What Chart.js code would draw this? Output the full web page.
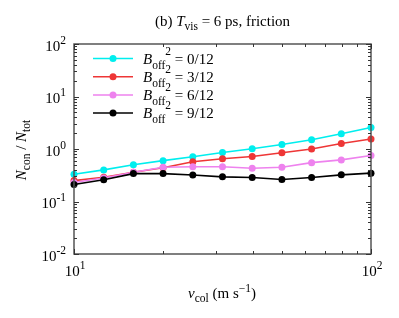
<!DOCTYPE html>
<html>
<head>
<meta charset="utf-8">
<script src="https://cdn.jsdelivr.net/npm/chart.js@4/dist/chart.umd.min.js"></script>
<style>
html,body{margin:0;padding:0;background:#fff;}
#wrap{width:399px;height:318px;}
</style>
</head>
<body>
<div id="wrap"><canvas id="c" width="399" height="318"></canvas></div>
<script>
// ---- data ----
const vCol = [10, 12.59, 15.85, 19.95, 25.12, 31.62, 39.81, 50.12, 63.10, 79.43, 100];
const seriesB0 = [0.33, 0.40, 0.50, 0.60, 0.71, 0.86, 1.01, 1.22, 1.50, 1.95, 2.57];
const seriesB3 = [0.25, 0.29, 0.36, 0.44, 0.57, 0.65, 0.72, 0.85, 1.00, 1.27, 1.55];
const seriesB6 = [0.23, 0.28, 0.36, 0.45, 0.46, 0.46, 0.43, 0.45, 0.55, 0.62, 0.75];
const seriesB9 = [0.21, 0.26, 0.34, 0.34, 0.32, 0.295, 0.286, 0.263, 0.286, 0.322, 0.347];
const seriesNames = ['0/12', '3/12', '6/12', '9/12'];
const xTickExps = [1, 2];
const yTickExps = [-2, -1, 0, 1, 2];

const colors = ['#00eeee', '#ee3636', '#ee82ee', '#000000'];
const seriesData = [seriesB0, seriesB3, seriesB6, seriesB9];

const FONT = '"Liberation Serif", "Times New Roman", serif';
const FS = 15, FSS = 11.5;

function richText(ctx, segs, x, y, align) {
  let w = 0;
  segs.forEach(s => { ctx.font = (s.it ? 'italic ' : '') + s.size + 'px ' + FONT; s.w = ctx.measureText(s.t).width; w += s.w; });
  let cx = x;
  if (align === 'center') cx = x - w / 2;
  else if (align === 'right') cx = x - w;
  ctx.textAlign = 'left';
  ctx.textBaseline = 'alphabetic';
  segs.forEach(s => {
    ctx.font = (s.it ? 'italic ' : '') + s.size + 'px ' + FONT;
    ctx.fillText(s.t, cx, y + (s.dy || 0));
    cx += s.w;
  });
  return w;
}

const decor = {
  id: 'decor',
  afterDatasetsDraw(chart) {
    const ctx = chart.ctx;
    const a = chart.chartArea;
    const xs = chart.scales.x, ys = chart.scales.y;
    ctx.save();
    ctx.fillStyle = '#000';
    // frame
    ctx.strokeStyle = '#555';
    ctx.lineWidth = 1.5;
    ctx.strokeRect(a.left, a.top, a.right - a.left, a.bottom - a.top);
    // ticks
    ctx.lineWidth = 1;
    ctx.strokeStyle = '#333';
    ctx.beginPath();
    for (let e = 1; e < 2; e++) {
      for (let m = 1; m <= 10; m++) {
        const v = m * Math.pow(10, e);
        const px = Math.round(xs.getPixelForValue(v)) + 0.5;
        const len = (m === 1 || m === 10) ? 5 : 3;
        ctx.moveTo(px, a.bottom); ctx.lineTo(px, a.bottom - len);
        ctx.moveTo(px, a.top); ctx.lineTo(px, a.top + len);
      }
    }
    for (let e = -2; e < 2; e++) {
      for (let m = 1; m <= 10; m++) {
        const v = m * Math.pow(10, e);
        const py = Math.round(ys.getPixelForValue(v)) + 0.5;
        const len = (m === 1 || m === 10) ? 5 : 3;
        ctx.moveTo(a.left, py); ctx.lineTo(a.left + len, py);
        ctx.moveTo(a.right, py); ctx.lineTo(a.right - len, py);
      }
    }
    ctx.stroke();
    // y tick labels
    yTickExps.forEach(e => {
      const py = ys.getPixelForValue(Math.pow(10, e));
      richText(ctx, [{t: '10', size: FS}, {t: String(e), size: FSS, dy: -7}], 66, py + 6.5, 'right');
    });
    // x tick labels
    xTickExps.forEach(e => {
      const px = xs.getPixelForValue(Math.pow(10, e));
      richText(ctx, [{t: '10', size: FS}, {t: String(e), size: FSS, dy: -7}], px + 1, 276, 'center');
    });
    // title
    richText(ctx, [
      {t: '(b) ', size: FS},
      {t: 'T', size: FS, it: true},
      {t: 'vis', size: FSS, dy: 3.5},
      {t: ' = 6 ps, friction', size: FS}
    ], 222.5, 26, 'center');
    // x title
    richText(ctx, [
      {t: 'v', size: FS, it: true},
      {t: 'col', size: FSS, dy: 3.5},
      {t: ' (m s', size: FS},
      {t: '\u22121', size: FSS, dy: -6},
      {t: ')', size: FS}
    ], 222, 298, 'center');
    // y title
    ctx.save();
    ctx.translate(26, 150);
    ctx.rotate(-Math.PI / 2);
    richText(ctx, [
      {t: 'N', size: FS, it: true},
      {t: 'con', size: FSS, dy: 3.5},
      {t: ' / ', size: FS},
      {t: 'N', size: FS, it: true},
      {t: 'tot', size: FSS, dy: 3.5}
    ], 0, 0, 'center');
    ctx.restore();
    // legend
    const rows = [58.5, 76.7, 95, 113];
    seriesNames.forEach((name, i) => {
      const y = rows[i];
      ctx.strokeStyle = colors[i];
      ctx.lineWidth = 1.6;
      ctx.beginPath(); ctx.moveTo(93, y); ctx.lineTo(133, y); ctx.stroke();
      ctx.fillStyle = colors[i];
      ctx.beginPath(); ctx.arc(113, y, 3.5, 0, Math.PI * 2); ctx.fill();
      ctx.fillStyle = '#000';
      richText(ctx, [
        {t: 'B', size: FS, it: true},
        {t: 'off', size: FSS, dy: 5},
        {t: '2', size: FSS, dy: -9},
        {t: ' = ' + name, size: FS}
      ], 143, y + 5, 'left');
    });
    ctx.restore();
  }
};

const datasets = seriesData.map((arr, i) => ({
  label: 'B_off^2 = ' + seriesNames[i],
  data: vCol.map((x, j) => ({x: x, y: arr[j]})),
  borderColor: colors[i],
  backgroundColor: colors[i],
  pointBackgroundColor: colors[i],
  pointBorderColor: colors[i],
  borderWidth: 1.6,
  pointRadius: 3.5,
  pointBorderWidth: 0,
  tension: 0,
  clip: false,
  order: 4 - i
}));

new Chart(document.getElementById('c'), {
  type: 'line',
  data: {datasets},
  options: {
    responsive: false,
    animation: false,
    devicePixelRatio: 1,
    layout: {padding: {left: 74, right: 28, top: 44, bottom: 64}},
    plugins: {legend: {display: false}, tooltip: {enabled: false}, title: {display: false}},
    scales: {
      x: {type: 'logarithmic', min: 10, max: 100, display: false},
      y: {type: 'logarithmic', min: 0.01, max: 100, display: false}
    }
  },
  plugins: [decor]
});
</script>
</body>
</html>
